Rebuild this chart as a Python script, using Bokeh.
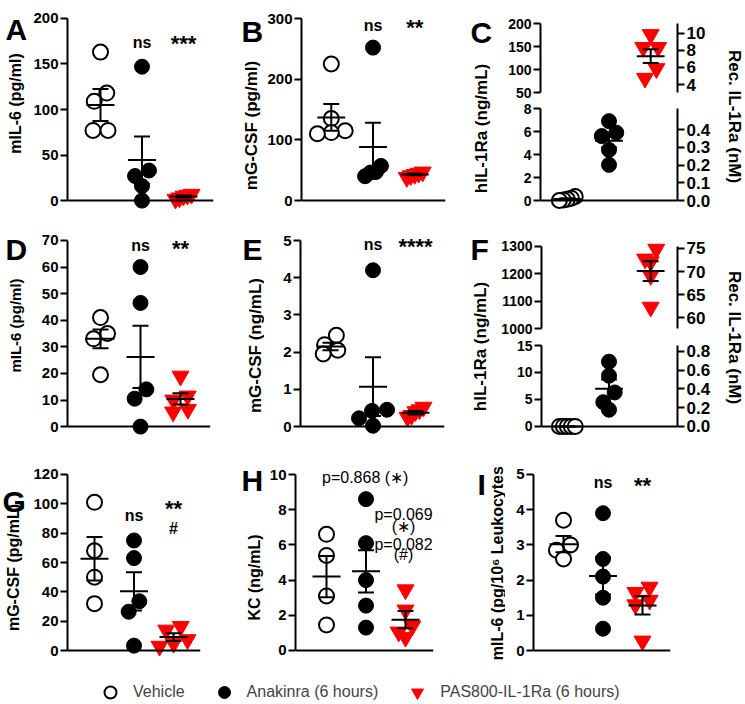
import math
from bokeh.plotting import figure
from bokeh.models import (Range1d, LinearAxis, FixedTicker, Label, Span, Legend,
                          LegendItem, PrintfTickFormatter)
from bokeh.layouts import row, column
from bokeh.embed import file_html
from bokeh.resources import INLINE

FONT = "Liberation Sans"
RED = "#ff0000"
OFF = 0  # layout pixel = reference pixel

# ---------------- data ----------------
legend_labels = ["Vehicle", "Anakinra (6 hours)", "PAS800-IL-1Ra (6 hours)"]

# A  mIL-6 (pg/ml)
a_veh = [163, 118, 109, 77, 77]
a_ana = [147, 33, 27, 16, 0]
a_pas = [7, 6, 5, 3, 1.5]
a_mean = [105, 44.5, 4.5]
a_sem = [17.5, 26, 1.2]
a_ticks = [0, 50, 100, 150, 200]

# B  mG-CSF (pg/ml)
b_veh = [225, 135, 115, 112, 110]
b_ana = [252, 57, 47, 46, 40]
b_pas = [47, 45, 43, 41, 38]
b_mean = [137, 88, 43]
b_sem = [22, 40, 1.5]
b_ticks = [0, 100, 200, 300]

# C  hIL-1Ra (ng/mL) with broken axis, right axis Rec. IL-1Ra (nM)
c_veh = [0.35, 0.2, 0.1, 0.05, 0.0]
c_ana = [6.9, 5.9, 5.6, 4.4, 3.1]
c_pas = [176, 148, 148, 102, 81]
c_mean = [0.14, 5.2, 129]
c_sem = [0.06, 0.6, 15]
c_ticks_lo = [0, 2, 4, 6, 8]
c_ticks_hi = [50, 100, 150, 200]
c_nm_ticks_lo = [0.0, 0.1, 0.2, 0.3, 0.4]
c_nm_ticks_hi = [4, 6, 8, 10]
c_nm_lo = (0.0, 0.519)   # nM at 0 and 8 ng/mL
c_nm_hi = (3.07, 11.12)  # nM at 50 and 200 ng/mL

# D  mIL-6 (pg/ml)
d_veh = [41, 35, 33, 19.5]
d_ana = [60, 46.5, 14, 10.5, 0]
d_pas = [19, 11.5, 10, 6.5, 5.5]
d_mean = [33, 26.2, 10.4]
d_sem = [3.5, 11.7, 2.1]
d_ticks = [0, 10, 20, 30, 40, 50, 60, 70]

# E  mG-CSF (ng/mL)
e_veh = [2.45, 2.2, 2.05, 1.95]
e_ana = [4.2, 0.45, 0.42, 0.22, 0.02]
e_pas = [0.52, 0.45, 0.4, 0.3, 0.25]
e_mean = [2.15, 1.07, 0.37]
e_sem = [0.1, 0.79, 0.05]
e_ticks = [0, 1, 2, 3, 4, 5]

# F  hIL-1Ra (ng/mL) with broken axis, right axis Rec. IL-1Ra (nM)
f_veh = [0, 0, 0, 0, 0]
f_ana = [12.0, 9.4, 6.3, 4.5, 3.1]
f_pas = [1290, 1254, 1244, 1194, 1078]
f_mean = [0, 7.0, 1210]
f_sem = [0, 1.7, 36]
f_ticks_lo = [0, 5, 10, 15]
f_ticks_hi = [1000, 1100, 1200, 1300]
f_nm_ticks_lo = [0.0, 0.2, 0.4, 0.6, 0.8]
f_nm_ticks_hi = [60, 65, 70, 75]
f_nm_lo = (0.0, 0.864)    # nM at 0 and 15 ng/mL
f_nm_hi = (57.73, 75.43)  # nM at 1000 and 1300 ng/mL

# G  mG-CSF (pg/mL)
g_veh = [101, 68, 50, 32]
g_ana = [75, 63, 33.6, 26.5, 3.4]
g_pas = [16.5, 14, 7.5, 5, 3]
g_mean = [62.6, 40.4, 9.2]
g_sem = [14.8, 13, 2.6]
g_ticks = [0, 20, 40, 60, 80, 100, 120]

# H  KC (ng/mL)
h_veh = [6.6, 5.4, 3.1, 1.45]
h_ana = [8.6, 6.1, 4.0, 2.55, 1.3]
h_pas = [3.45, 2.3, 1.4, 1.05, 0.75]
h_mean = [4.2, 4.5, 1.75]
h_sem = [1.17, 1.2, 0.49]
h_ticks = [0, 2, 4, 6, 8, 10]

# I  mIL-6 (pg/10^6 Leukocytes)
i_veh = [3.7, 3.0, 2.85, 2.6]
i_ana = [3.9, 2.6, 2.1, 1.5, 0.62]
i_pas = [1.8, 1.65, 1.43, 1.3, 0.27]
i_mean = [3.02, 2.12, 1.28]
i_sem = [0.23, 0.53, 0.26]
i_ticks = [0, 1, 2, 3, 4, 5]

# ---------------- styling helpers ----------------
STY = [
    dict(marker="circle", size=15, fill_color="white", line_color="black", line_width=2),
    dict(marker="circle", size=15, fill_color="black", line_color="black", line_width=1),
    dict(marker="inverted_triangle", size=17, fill_color=RED, line_color=RED, line_width=1),
]

SCALES = {}


def swarm(vals, ppy, ppx, d=15.0):
    n = len(vals)
    order = sorted(range(n), key=lambda i: -vals[i])
    rows = []
    for i in order:
        if rows and (vals[rows[-1][0]] - vals[i]) * ppy < 0.75 * d:
            rows[-1].append(i)
        else:
            rows.append([i])
    off = [0.0] * n
    for r in rows:
        r = sorted(r, key=lambda i: vals[i])
        pos = [0.0]
        for a, b in zip(r[:-1], r[1:]):
            dy = abs(vals[a] - vals[b]) * ppy
            pos.append(pos[-1] + math.sqrt(max(d * d - dy * dy, 0.0)))
        c = (pos[0] + pos[-1]) / 2
        span = pos[-1] - pos[0]
        maxhalf = 8.0 if len(r) >= 4 else 14.0
        k = 1.0 if span <= 2 * maxhalf else 2 * maxhalf / span
        for i, ps in zip(r, pos):
            off[i] = (ps - c) * k / ppx
    return off


def style_axis(ax, ticks, bounds, size="15px"):
    ax.ticker = FixedTicker(ticks=ticks)
    ax.bounds = bounds
    ax.axis_line_width = 2
    ax.axis_line_color = "black"
    ax.major_tick_line_width = 2
    ax.major_tick_line_color = "black"
    ax.major_tick_out = 7
    ax.major_tick_in = 0
    ax.minor_tick_line_color = None
    ax.major_label_text_font = FONT
    ax.major_label_text_font_style = "bold"
    ax.major_label_text_font_size = size
    ax.major_label_text_color = "black"
    ax.major_label_standoff = 2


def panel(ox, oy, ow, oh, ax_l, ax_r, g1, g3, y_top, y_bot, lo, hi, ticks,
          pad_t=8, pad_b=10, baseline=True, right=None, tsize="15px"):
    s = (g3 - g1) / 2.0
    ppy = (y_bot - y_top) / (hi - lo)
    fl, fr = ax_l - OFF, ax_r - OFF
    ft, fb = y_top - OFF - pad_t, y_bot - OFF + pad_b
    y0, y1 = lo - pad_b / ppy, hi + pad_t / ppy
    p = figure(width=ow, height=oh, output_backend="svg", toolbar_location=None,
               x_range=Range1d(1 - (g1 - ax_l) / s, 3 + (ax_r - g3) / s),
               y_range=Range1d(y0, y1),
               x_axis_location=None, y_axis_location="left",
               min_border_left=int(round(fl - ox)), min_border_right=int(round(ox + ow - fr)),
               min_border_top=int(round(ft - oy)), min_border_bottom=int(round(oy + oh - fb)))
    p.outline_line_color = None
    p.grid.visible = False
    style_axis(p.yaxis[0], ticks, (lo, hi), size=tsize)
    if baseline:
        p.add_layout(Span(location=lo, dimension="width", line_color="black", line_width=2))
    if right is not None:
        (n0, n1), rticks, fmt = right
        m = lambda v: n0 + (v - lo) * (n1 - n0) / (hi - lo)
        p.extra_y_ranges = {"nm": Range1d(m(y0), m(y1))}
        rax = LinearAxis(y_range_name="nm")
        style_axis(rax, rticks, (n0, n1), size="17px")
        if fmt:
            rax.formatter = PrintfTickFormatter(format=fmt)
        p.add_layout(rax, "right")
    SCALES[p.id] = (s, ppy)
    return p


def blank(w, h):
    p = figure(width=w, height=h, output_backend="svg", toolbar_location=None,
               x_axis_location=None, y_axis_location=None, min_border=0,
               x_range=Range1d(0, 1), y_range=Range1d(0, 1))
    p.outline_line_color = None
    p.grid.visible = False
    return p


def draw_group(p, gi, vals, mean, sem):
    ppx, ppy = SCALES[p.id]
    off = swarm(vals, ppy, ppx)
    gx = gi + 1
    p.scatter(x=[gx + o for o in off], y=vals, **STY[gi])
    mw, cw = 14 / ppx, 8 / ppx
    p.segment(x0=[gx - mw, gx - cw, gx - cw, gx], y0=[mean, mean + sem, mean - sem, mean - sem],
              x1=[gx + mw, gx + cw, gx + cw, gx], y1=[mean, mean + sem, mean - sem, mean + sem],
              line_color="black", line_width=2)


def ctext(p, x, y, text, size, bold=True, angle=0.0, align="center", baseline="middle"):
    p.add_layout(Label(x=x, y=y, x_units="canvas", y_units="canvas", text=text, angle=angle,
                       text_font=FONT, text_font_size=f"{size}px",
                       text_font_style="bold" if bold else "normal",
                       text_align=align, text_baseline=baseline, text_color="black"))


def dtext(p, x, y, text, size, bold=True):
    p.add_layout(Label(x=x, y=y, text=text, text_font=FONT, text_font_size=f"{size}px",
                       text_font_style="bold" if bold else "normal",
                       text_align="center", text_baseline="middle", text_color="black"))


def side(w, h, letter, lx, ly, label, cx, cy, size):
    b = blank(w, h)
    ctext(b, lx, ly, letter, 30, align="left", baseline="alphabetic")
    ctext(b, cx, cy, label, size, angle=math.pi / 2)
    return b


R1, R2, R3, R4 = 0, 216, 452, 664   # row tops

# ---------------- row 1 ----------------
sA = side(27, 216, "A", 5, 29, "mIL-6 (pg/ml)", 15, 103, 16)
pA = panel(27, R1, 213, 216, 67, 213, 100, 183, 16, 200, 0, 200, a_ticks)
for gi, (v, m, s) in enumerate(zip([a_veh, a_ana, a_pas], a_mean, a_sem)):
    draw_group(pA, gi, v, m, s)
dtext(pA, 2, 174, "ns", 16)
dtext(pA, 3, 172, "***", 22)

sB = side(24, 216, "B", 1, 31, "mG-CSF (pg/ml)", 11, 125, 17)
pB = panel(264, R1, 204, 216, 300, 445, 330, 414, 18, 200, 0, 300, b_ticks)
for gi, (v, m, s) in enumerate(zip([b_veh, b_ana, b_pas], b_mean, b_sem)):
    draw_group(pB, gi, v, m, s)
dtext(pB, 2, 288, "ns", 16)
dtext(pB, 3, 285, "**", 22)

sC = side(27, 216, "C", 2, 32, "hIL-1Ra (ng/mL)", 13, 128, 17)
pCu = panel(495, R1, 218, 100, 540, 678, 567, 651, 23, 92, 50, 200, c_ticks_hi,
            pad_t=8, pad_b=0, baseline=False, right=(c_nm_hi, c_nm_ticks_hi, None), tsize="14px")
draw_group(pCu, 2, c_pas, c_mean[2], c_sem[2])
pCd = panel(495, 100, 218, 116, 540, 678, 567, 651, 108, 200, 0, 8, c_ticks_lo,
            pad_t=0, pad_b=10, right=(c_nm_lo, c_nm_ticks_lo, "%.1f"), tsize="14px")
draw_group(pCd, 0, c_veh, c_mean[0], c_sem[0])
draw_group(pCd, 1, c_ana, c_mean[1], c_sem[1])
rC = blank(30, 216)
ctext(rC, 21, 116, "Rec. IL-1Ra (nM)", 17, angle=-math.pi / 2)

# ---------------- row 2 ----------------
sD = side(27, 236, "D", 5, 33, "mIL-6 (pg/ml)", 15, 109, 15)
pD = panel(27, R2, 213, 236, 67, 210, 100, 180, 239, 427, 0, 70, d_ticks)
for gi, (v, m, s) in enumerate(zip([d_veh, d_ana, d_pas], d_mean, d_sem)):
    draw_group(pD, gi, v, m, s)
dtext(pD, 2, 68, "ns", 16)
dtext(pD, 3, 67, "**", 22)

sE = side(24, 236, "E", 2, 33, "mG-CSF (ng/mL)", 15, 129, 17)
pE = panel(264, R2, 204, 236, 300, 444, 330, 415, 240, 426, 0, 5, e_ticks)
for gi, (v, m, s) in enumerate(zip([e_veh, e_ana, e_pas], e_mean, e_sem)):
    draw_group(pE, gi, v, m, s)
dtext(pE, 2, 4.9, "ns", 16)
dtext(pE, 3, 4.85, "****", 22)

sF = side(27, 236, "F", 2, 33, "hIL-1Ra (ng/mL)", 12, 130, 17)
pFu = panel(495, R2, 218, 121, 541, 678, 567, 651, 245.7, 328.3, 1000, 1300, f_ticks_hi,
            pad_t=8, pad_b=0, baseline=False, right=(f_nm_hi, f_nm_ticks_hi, None), tsize="14px")
draw_group(pFu, 2, f_pas, f_mean[2], f_sem[2])
pFd = panel(495, 337, 218, 115, 541, 678, 567, 651, 345, 425.7, 0, 15, f_ticks_lo,
            pad_t=0, pad_b=10, right=(f_nm_lo, f_nm_ticks_lo, "%.1f"), tsize="14px")
draw_group(pFd, 0, f_veh, f_mean[0], f_sem[0])
draw_group(pFd, 1, f_ana, f_mean[1], f_sem[1])
rF = blank(30, 236)
ctext(rF, 21, 121, "Rec. IL-1Ra (nM)", 17, angle=-math.pi / 2)

# ---------------- row 3 ----------------
sG = side(27, 212, "G", 2, 49, "mG-CSF (pg/mL)", 13, 115, 16)
pG = panel(27, R3, 213, 212, 67, 200, 94, 173, 473.3, 651.7, 0, 120, g_ticks)
for gi, (v, m, s) in enumerate(zip([g_veh, g_ana, g_pas], g_mean, g_sem)):
    draw_group(pG, gi, v, m, s)
dtext(pG, 2, 92, "ns", 16)
dtext(pG, 3, 97, "**", 22)
dtext(pG, 3, 83, "#", 16)

sH = side(24, 212, "H", 1, 28, "KC (ng/mL)", 14, 125, 16)
pH = panel(264, R3, 209, 212, 295, 433, 326, 405, 474.3, 650, 0, 10, h_ticks)
for gi, (v, m, s) in enumerate(zip([h_veh, h_ana, h_pas], h_mean, h_sem)):
    draw_group(pH, gi, v, m, s)
dtext(pH, 1.98, 9.85, "p=0.868 (\u2217)", 16, bold=False)
dtext(pH, 2.95, 7.75, "p=0.069", 16, bold=False)
dtext(pH, 2.95, 7.05, "(\u2217)", 16, bold=False)
dtext(pH, 2.95, 6.04, "p=0.082", 16, bold=False)
dtext(pH, 2.95, 5.45, "(#)", 16, bold=False)

sI = side(32, 212, "I", 4, 32, "mIL-6 (pg/10\u2076 Leukocytes)", 24, 108, 16)
pI = panel(505, R3, 238, 212, 533, 670, 563, 642, 473.3, 650, 0, 5, i_ticks)
for gi, (v, m, s) in enumerate(zip([i_veh, i_ana, i_pas], i_mean, i_sem)):
    draw_group(pI, gi, v, m, s)
dtext(pI, 2, 4.76, "ns", 16)
dtext(pI, 3, 4.7, "**", 22)

# ---------------- legend ----------------
legpad = blank(95, 38)
leg = blank(648, 38)
rends = [leg.scatter(x=[-100], y=[-100], **STY[k]) for k in range(3)]
legend = Legend(items=[LegendItem(label=lab, renderers=[r]) for lab, r in zip(legend_labels, rends)],
                orientation="horizontal", location="top_left", glyph_width=30, glyph_height=56,
                label_standoff=8, spacing=24, padding=0, margin=0, border_line_color=None,
                background_fill_alpha=0, label_text_font=FONT, label_text_font_size="16px")
leg.add_layout(legend)

layout = column(
    row(sA, pA, sB, pB, sC, column(pCu, pCd), rC),
    row(sD, pD, sE, pE, sF, column(pFu, pFd), rF),
    row(sG, pG, sH, pH, sI, pI),
    row(legpad, leg),
)

open("out.html", "w").write(file_html(layout, INLINE))
